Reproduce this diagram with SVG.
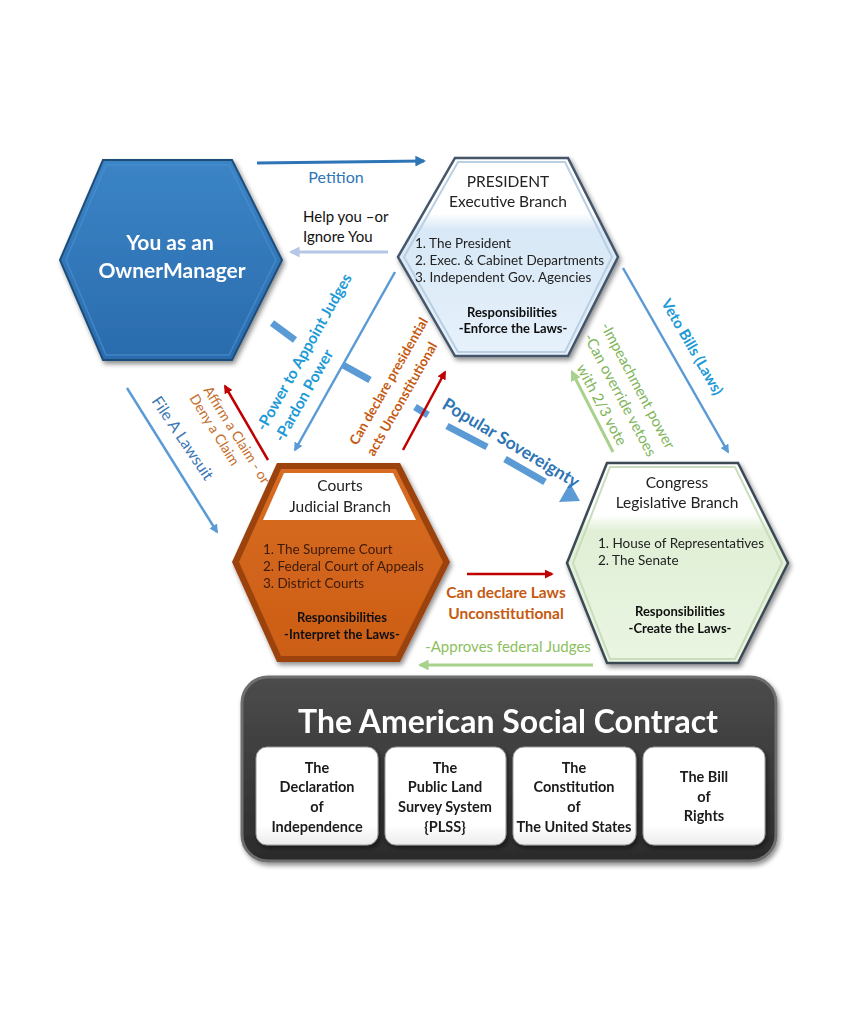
<svg xmlns="http://www.w3.org/2000/svg" width="853" height="1024" viewBox="0 0 853 1024">
<style>
.t{font-family:Lato,"Liberation Sans",sans-serif}
.b{font-weight:bold}
.c{text-anchor:middle}
.lst{font-family:Lato,"Liberation Sans",sans-serif;font-size:13.5px}
.ttl{font-family:Lato,"Liberation Sans",sans-serif;font-size:15.5px;text-anchor:middle;fill:#222}
.resp{font-family:Lato,"Liberation Sans",sans-serif;font-size:13px;font-weight:bold;text-anchor:middle;fill:#111}
.doc{font-family:Lato,"Liberation Sans",sans-serif;font-size:14.5px;font-weight:bold;text-anchor:middle;fill:#1a1a1a}
.dash{stroke:#5b9bd5;stroke-width:7;fill:none}
</style>
<defs>
<filter id="sh" x="-20%" y="-20%" width="140%" height="140%">
<feGaussianBlur in="SourceAlpha" stdDeviation="2.5"/>
<feOffset dx="2" dy="3" result="o"/>
<feComponentTransfer><feFuncA type="linear" slope="0.45"/></feComponentTransfer>
<feMerge><feMergeNode/><feMergeNode in="SourceGraphic"/></feMerge>
</filter>
<linearGradient id="gBlue" x1="0" y1="0" x2="0" y2="1">
<stop offset="0" stop-color="#3b84c6"/><stop offset="1" stop-color="#2a6cad"/>
</linearGradient>
<linearGradient id="gPres" x1="0" y1="0" x2="0" y2="1">
<stop offset="0" stop-color="#ffffff"/><stop offset="0.28" stop-color="#ffffff"/>
<stop offset="0.36" stop-color="#d8e8f6"/><stop offset="1" stop-color="#e6f1fb"/>
</linearGradient>
<linearGradient id="gCong" x1="0" y1="0" x2="0" y2="1">
<stop offset="0" stop-color="#ffffff"/><stop offset="0.26" stop-color="#ffffff"/>
<stop offset="0.34" stop-color="#e0efd6"/><stop offset="1" stop-color="#eaf5e2"/>
</linearGradient>
<linearGradient id="gOr" x1="0" y1="0" x2="0" y2="1">
<stop offset="0" stop-color="#d86c22"/><stop offset="1" stop-color="#cc5e15"/>
</linearGradient>
<linearGradient id="gDark" x1="0" y1="0" x2="0" y2="1">
<stop offset="0" stop-color="#4c4c4c"/><stop offset="1" stop-color="#2b2b2b"/>
</linearGradient>
<linearGradient id="gWhite" x1="0" y1="0" x2="0" y2="1">
<stop offset="0" stop-color="#ffffff"/><stop offset="0.8" stop-color="#ffffff"/><stop offset="1" stop-color="#ececec"/>
</linearGradient>
<marker id="aDB" viewBox="0 0 10 10" refX="8" refY="5" markerWidth="3.6" markerHeight="3.6" orient="auto" markerUnits="strokeWidth"><path d="M0,0 L10,5 L0,10 z" fill="#2e75b6"/></marker>
<marker id="aLB" viewBox="0 0 10 10" refX="8" refY="5" markerWidth="3.6" markerHeight="3.6" orient="auto" markerUnits="strokeWidth"><path d="M0,0 L10,5 L0,10 z" fill="#b4c7e7"/></marker>
<marker id="aMB" viewBox="0 0 10 10" refX="8" refY="5" markerWidth="3.6" markerHeight="3.6" orient="auto" markerUnits="strokeWidth"><path d="M0,0 L10,5 L0,10 z" fill="#5b9bd5"/></marker>
<marker id="aG" viewBox="0 0 10 10" refX="8" refY="5" markerWidth="3.6" markerHeight="3.6" orient="auto" markerUnits="strokeWidth"><path d="M0,0 L10,5 L0,10 z" fill="#a9d18e"/></marker>
<marker id="aR" viewBox="0 0 10 10" refX="8" refY="5" markerWidth="3.6" markerHeight="3.6" orient="auto" markerUnits="strokeWidth"><path d="M0,0 L10,5 L0,10 z" fill="#c00000"/></marker>
</defs>

<rect width="853" height="1024" fill="#ffffff"/>

<g id="connectors">
<line x1="257" y1="163" x2="424" y2="161" stroke="#2e75b6" stroke-width="3" marker-end="url(#aDB)"/>
<line x1="388" y1="252" x2="291" y2="252" stroke="#b4c7e7" stroke-width="3" marker-end="url(#aLB)"/>
<line x1="623" y1="268" x2="728" y2="452" stroke="#5b9bd5" stroke-width="2.5" marker-end="url(#aMB)"/>
<line x1="613" y1="452" x2="572" y2="372" stroke="#a9d18e" stroke-width="3" marker-end="url(#aG)"/>
<line x1="395" y1="272" x2="295" y2="450" stroke="#5b9bd5" stroke-width="2.5" marker-end="url(#aMB)"/>
<line x1="127" y1="388" x2="217" y2="532" stroke="#5b9bd5" stroke-width="2.5" marker-end="url(#aMB)"/>
<line x1="268" y1="460" x2="225" y2="386" stroke="#c00000" stroke-width="2.5" marker-end="url(#aR)"/>
<line x1="467" y1="574" x2="552" y2="574" stroke="#c00000" stroke-width="2.5" marker-end="url(#aR)"/>
<line x1="593" y1="665" x2="420" y2="665" stroke="#a9d18e" stroke-width="3" marker-end="url(#aG)"/>
<g id="popular-sovereignty">
<line class="dash" x1="272" y1="323" x2="295" y2="340"/>
<line class="dash" x1="343" y1="365" x2="370" y2="380"/>
<line class="dash" x1="415" y1="407" x2="428" y2="415"/>
<line class="dash" x1="447" y1="426" x2="487" y2="447"/>
<line class="dash" x1="505" y1="459" x2="545" y2="482"/>
<polygon points="580,501 559,502 570,483" fill="#5b9bd5"/>
</g>
<line x1="403" y1="450" x2="445" y2="372" stroke="#c00000" stroke-width="2.5" marker-end="url(#aR)"/>

<text class="t" x="336" y="183" font-size="16" fill="#2e75b6" text-anchor="middle">Petition</text>
<text class="t" x="303" y="222" font-size="15" fill="#111">Help you –or</text>
<text class="t" x="303" y="242" font-size="15" fill="#111">Ignore You</text>
<text class="t b c" transform="translate(692,347) rotate(60)" y="5" font-size="15" fill="#1e9ad6">Veto Bills (Laws)</text>
<g transform="translate(620,395) rotate(62)" class="t c" font-size="15" fill="#80b55a">
<text y="-15">-Impeachment power</text>
<text y="5">-Can override vetoes</text>
<text y="26">with 2/3 vote</text>
</g>
<g class="t b" font-size="15.5" fill="#1e9ad6">
<text transform="translate(265,432) rotate(-60.5)">-Power to Appoint Judges</text>
<text transform="translate(283,443) rotate(-60.5)">-Pardon Power</text>
</g>
<g class="t b" font-size="13.5" fill="#c55a11">
<text transform="translate(357,446) rotate(-60.2)">Can declare presidential</text>
<text transform="translate(374,457) rotate(-60.2)">acts Unconstitutional</text>
</g>
<g class="t" font-size="14" fill="#c5702f">
<text transform="translate(203,390) rotate(58)">Affirm a Claim - or</text>
<text transform="translate(189,398) rotate(58)">Deny a Claim</text>
</g>
<text class="t" transform="translate(151,401) rotate(56)" font-size="16" fill="#3b77b4">File A Lawsuit</text>
<text class="t b c" transform="translate(511,443) rotate(31)" y="6" font-size="17.5" fill="#2e75b6">Popular Sovereignty</text>
<text class="t b c" x="506" y="598" font-size="15.5" fill="#c55a11">Can declare Laws</text>
<text class="t b c" x="506" y="619" font-size="15.5" fill="#c55a11">Unconstitutional</text>
<text class="t c" x="508" y="652" font-size="15" fill="#8cbf5e">-Approves federal Judges</text>
</g>

<g id="you" filter="url(#sh)">
<polygon points="103,160 232,160 282,260 232,360 103,360 60,260" fill="url(#gBlue)" stroke="#1f4e79" stroke-width="2"/>
<polygon points="106,165 229,165 276,260 229,355 106,355 66,260" fill="none" stroke="#4a90d0" stroke-width="1.5" opacity="0.7"/>
<text class="t b c" x="170" y="250" font-size="21" fill="#ffffff">You as an</text>
<text class="t b c" x="172" y="278" font-size="21" fill="#ffffff">OwnerManager</text>
</g>

<g id="president" filter="url(#sh)">
<polygon points="455,158 568,158 618,257 568,356 455,356 398,257" fill="url(#gPres)" stroke="#44546a" stroke-width="2.5"/>
<polygon points="458,162 565,162 612,257 565,352 458,352 404,257" fill="none" stroke="#b9cfe2" stroke-width="2"/>
<text class="ttl" x="508" y="187">PRESIDENT</text>
<text class="ttl" x="508" y="207">Executive Branch</text>
<text class="lst" x="415" y="248" fill="#222">1. The President</text>
<text class="lst" x="415" y="265" fill="#222">2. Exec. &amp; Cabinet Departments</text>
<text class="lst" x="415" y="282" fill="#222">3. Independent Gov. Agencies</text>
<text class="resp" x="512" y="317">Responsibilities</text>
<text class="resp" x="513" y="333">-Enforce the Laws-</text>
</g>

<g id="courts" filter="url(#sh)">
<polygon points="277,463 400,463 450,562 400,662 277,662 232,562" fill="#9c420c"/>
<polygon points="281,469 396,469 443,562 396,656 281,656 239,562" fill="url(#gOr)"/>
<polygon points="284,473 393,473 416,520 263,520" fill="#ffffff"/>
<text class="ttl" x="340" y="491">Courts</text>
<text class="ttl" x="340" y="512">Judicial Branch</text>
<text class="lst" x="263" y="554" fill="#3a1a08">1. The Supreme Court</text>
<text class="lst" x="263" y="571" fill="#3a1a08">2. Federal Court of Appeals</text>
<text class="lst" x="263" y="588" fill="#3a1a08">3. District Courts</text>
<text class="resp" x="342" y="622">Responsibilities</text>
<text class="resp" x="342" y="639">-Interpret the Laws-</text>
</g>

<g id="congress" filter="url(#sh)">
<polygon points="607,463 738,463 788,563 738,663 607,663 567,563" fill="url(#gCong)" stroke="#3b4a55" stroke-width="2.5"/>
<polygon points="610,467 735,467 782,563 735,659 610,659 573,563" fill="none" stroke="#c9dcbc" stroke-width="2"/>
<text class="ttl" x="677" y="488">Congress</text>
<text class="ttl" x="677" y="508">Legislative Branch</text>
<text class="lst" x="598" y="548" fill="#222">1. House of Representatives</text>
<text class="lst" x="598" y="565" fill="#222">2. The Senate</text>
<text class="resp" x="680" y="616">Responsibilities</text>
<text class="resp" x="680" y="633">-Create the Laws-</text>
</g>

<g id="social-contract" filter="url(#sh)">
<rect x="242" y="677" width="534" height="184" rx="26" fill="url(#gDark)" stroke="#6e6e6e" stroke-width="3"/>
<text class="t b c" x="508" y="733" font-size="32" fill="#ffffff">The American Social Contract</text>
</g>
<g id="declaration" filter="url(#sh)">
<rect x="256" y="747" width="122" height="98" rx="11" fill="url(#gWhite)" stroke="#9a9a9a" stroke-width="1"/>
<text class="doc" x="317" y="773">The</text>
<text class="doc" x="317" y="792">Declaration</text>
<text class="doc" x="317" y="812">of</text>
<text class="doc" x="317" y="832">Independence</text>
</g>
<g id="plss" filter="url(#sh)">
<rect x="385" y="747" width="121" height="98" rx="11" fill="url(#gWhite)" stroke="#9a9a9a" stroke-width="1"/>
<text class="doc" x="445" y="773">The</text>
<text class="doc" x="445" y="792">Public Land</text>
<text class="doc" x="445" y="812">Survey System</text>
<text class="doc" x="445" y="832">{PLSS}</text>
</g>
<g id="constitution" filter="url(#sh)">
<rect x="513" y="747" width="123" height="98" rx="11" fill="url(#gWhite)" stroke="#9a9a9a" stroke-width="1"/>
<text class="doc" x="574" y="773">The</text>
<text class="doc" x="574" y="792">Constitution</text>
<text class="doc" x="574" y="812">of</text>
<text class="doc" x="574" y="832">The United States</text>
</g>
<g id="bill-of-rights" filter="url(#sh)">
<rect x="643" y="747" width="122" height="98" rx="11" fill="url(#gWhite)" stroke="#9a9a9a" stroke-width="1"/>
<text class="doc" x="704" y="782">The Bill</text>
<text class="doc" x="704" y="802">of</text>
<text class="doc" x="704" y="821">Rights</text>
</g>
</svg>
